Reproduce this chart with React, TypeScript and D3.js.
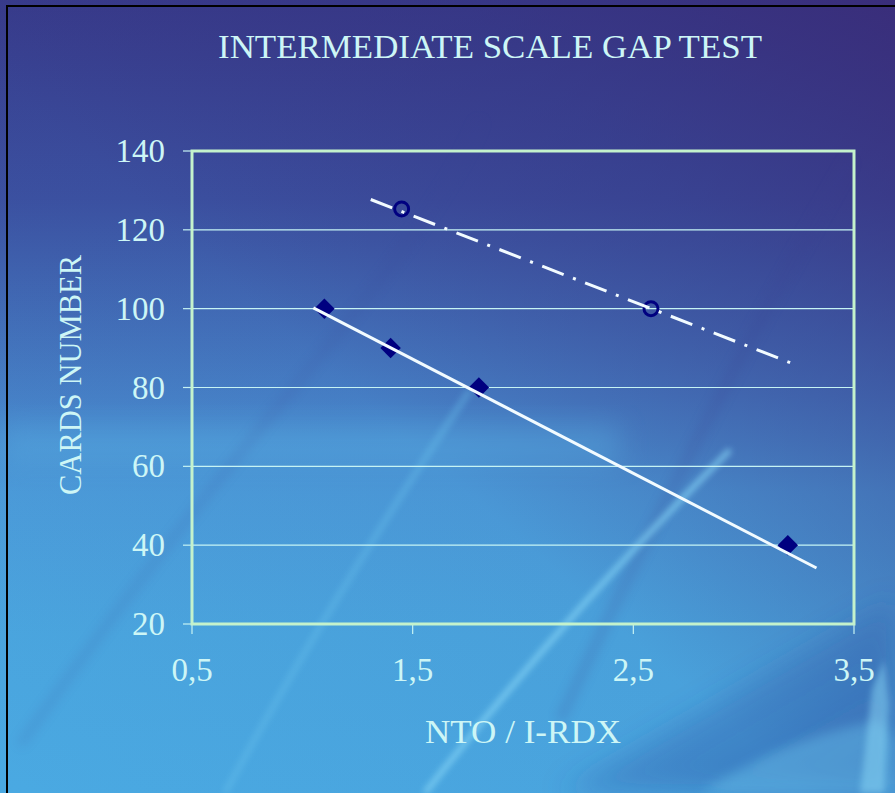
import React, { useEffect } from "react";
import * as d3 from "d3";

// Chart data
const xTicks = [0.5, 1.5, 2.5, 3.5];
const xTickLabels = ["0,5", "1,5", "2,5", "3,5"];
const yTicks = [20, 40, 60, 80, 100, 120, 140];
const gridValues = [40, 60, 80, 100, 120];

// Series A: filled diamonds
const seriesAX = [1.1, 1.4, 1.8, 3.2];
const seriesAY = [100, 90, 80, 40];
// Series B: open circles
const seriesBX = [1.45, 2.58];
const seriesBY = [125.3, 100];

// Trend lines (endpoints)
const trendAX = [1.05, 3.33];
const trendAY = [100.2, 34.2];
const trendBX = [1.31, 3.22];
const trendBY = [127.7, 86.1];

const W = 895;
const H = 793;
const plot = { left: 192, right: 854, top: 151, bottom: 624 };

const TEXT = "#cdf6f6";
const FRAME = "#c4f2cc";
const GRID = "#c6f4f4";
const MARK = "#000080";
const FONT = "'Liberation Serif', 'Times New Roman', serif";

export default function App() {
  useEffect(() => {
    document.body.style.margin = "0";
  }, []);

  const x = d3.scaleLinear().domain([0.5, 3.5]).range([plot.left, plot.right]);
  const y = d3.scaleLinear().domain([20, 140]).range([plot.bottom, plot.top]);

  const line = d3
    .line<[number, number]>()
    .x((d) => x(d[0]))
    .y((d) => y(d[1]));

  const trendA = line(trendAX.map((v, i) => [v, trendAY[i]]) as [number, number][]) || "";
  const trendB = line(trendBX.map((v, i) => [v, trendBY[i]]) as [number, number][]) || "";

  const diamond = d3.symbol().type(d3.symbolSquare).size(210)() || "";

  return (
    <svg width={W} height={H} style={{ display: "block" }}>
      <defs>
        <linearGradient id="bgV" x1="0" y1="0" x2="0" y2="1">
          <stop offset="0" stopColor="#373c8c" />
          <stop offset="0.25" stopColor="#3b52a2" />
          <stop offset="0.5" stopColor="#4682c8" />
          <stop offset="0.62" stopColor="#4b9cda" />
          <stop offset="0.8" stopColor="#4aa6df" />
          <stop offset="1" stopColor="#4aa9e2" />
        </linearGradient>
        <linearGradient id="bgD" x1="0" y1="1" x2="1" y2="0">
          <stop offset="0" stopColor="#3a2c7a" stopOpacity="0" />
          <stop offset="0.45" stopColor="#3a2c7a" stopOpacity="0.05" />
          <stop offset="0.75" stopColor="#36307e" stopOpacity="0.45" />
          <stop offset="1" stopColor="#3a2a76" stopOpacity="0.8" />
        </linearGradient>
        <linearGradient id="bgBR" x1="0" y1="0" x2="1" y2="1">
          <stop offset="0" stopColor="#2c4ea0" stopOpacity="0" />
          <stop offset="1" stopColor="#2c4ea0" stopOpacity="0.55" />
        </linearGradient>
        <filter id="blur6" x="-50%" y="-50%" width="200%" height="200%">
          <feGaussianBlur stdDeviation="6" />
        </filter>
        <filter id="blur3" x="-50%" y="-50%" width="200%" height="200%">
          <feGaussianBlur stdDeviation="3" />
        </filter>
        <filter id="blur14" x="-50%" y="-50%" width="200%" height="200%">
          <feGaussianBlur stdDeviation="14" />
        </filter>
      </defs>

      {/* Backdrop */}
      <rect x={0} y={0} width={W} height={H} fill="url(#bgV)" />
      <rect x={0} y={0} width={W} height={H} fill="url(#bgD)" />
      <path d="M560,793 L895,600 L895,793 Z" fill="url(#bgBR)" filter="url(#blur14)" />
      {/* soft horizontal light band */}
      <rect x={0} y={425} width={620} height={40} fill="#5ab4e6" opacity={0.35} filter="url(#blur14)" />
      {/* darker diagonal streaks */}
      <path d="M20,745 Q150,560 300,380 T480,120" stroke="#3a4a98" strokeWidth={7} fill="none" opacity={0.18} filter="url(#blur6)" />
      <path d="M560,720 Q700,420 850,160" stroke="#3a3f90" strokeWidth={8} fill="none" opacity={0.22} filter="url(#blur6)" />
      {/* light diagonal streaks */}
      <path d="M425,793 Q560,620 730,450" stroke="#86d6f6" strokeWidth={5} fill="none" opacity={0.8} filter="url(#blur3)" />
      <path d="M225,793 Q330,600 470,390" stroke="#6cc4ee" strokeWidth={6} fill="none" opacity={0.4} filter="url(#blur3)" />
      {/* light wave at lower right */}
      <path d="M700,793 Q780,740 880,720 L895,740 L895,793 Z" fill="#6cc8ef" opacity={0.4} filter="url(#blur6)" />
      <path d="M860,793 L872,690 L884,660 L889,705 L884,793 Z" fill="#8ad8f6" opacity={0.5} filter="url(#blur3)" />

      {/* Outer frame */}
      <rect x={7} y={6} width={W + 20} height={H + 20} fill="none" stroke="#000" strokeWidth={2} />

      {/* Title */}
      <text
        x={490}
        y={58}
        textAnchor="middle"
        fontFamily={FONT}
        fontSize={33}
        fill={TEXT}
        textLength={544}
        lengthAdjust="spacingAndGlyphs"
      >
        INTERMEDIATE SCALE GAP TEST
      </text>

      {/* Gridlines */}
      {gridValues.map((v) => (
        <line key={"g" + v} x1={plot.left} x2={plot.right} y1={y(v)} y2={y(v)} stroke={GRID} strokeWidth={1.2} />
      ))}

      {/* Tick marks */}
      {yTicks.map((v) => (
        <line key={"yt" + v} x1={plot.left - 9} x2={plot.left} y1={y(v)} y2={y(v)} stroke={GRID} strokeWidth={1.2} />
      ))}
      {xTicks.map((v) => (
        <line key={"xt" + v} x1={x(v)} x2={x(v)} y1={plot.bottom} y2={plot.bottom + 10} stroke={GRID} strokeWidth={1.2} />
      ))}

      {/* Plot frame */}
      <rect
        x={plot.left}
        y={plot.top}
        width={plot.right - plot.left}
        height={plot.bottom - plot.top}
        fill="none"
        stroke={FRAME}
        strokeWidth={3}
      />

      {/* Tick labels */}
      {yTicks.map((v) => (
        <text key={"yl" + v} x={165} y={y(v) + 11} textAnchor="end" fontFamily={FONT} fontSize={33} fill={TEXT}>
          {v}
        </text>
      ))}
      {xTicks.map((v, i) => (
        <text key={"xl" + v} x={x(v)} y={681} textAnchor="middle" fontFamily={FONT} fontSize={33} fill={TEXT}>
          {xTickLabels[i]}
        </text>
      ))}

      {/* Axis titles */}
      <text
        x={523}
        y={743}
        textAnchor="middle"
        fontFamily={FONT}
        fontSize={33}
        fill={TEXT}
        textLength={196}
        lengthAdjust="spacingAndGlyphs"
      >
        NTO / I-RDX
      </text>
      <text
        transform="translate(81,375) rotate(-90)"
        textAnchor="middle"
        fontFamily={FONT}
        fontSize={32}
        fill={TEXT}
        textLength={240}
        lengthAdjust="spacingAndGlyphs"
      >
        CARDS NUMBER
      </text>

      {/* Markers */}
      {seriesAX.map((v, i) => (
        <path
          key={"a" + i}
          d={diamond}
          transform={`translate(${x(v)},${y(seriesAY[i])}) rotate(45)`}
          fill={MARK}
        />
      ))}
      {seriesBX.map((v, i) => (
        <circle key={"b" + i} cx={x(v)} cy={y(seriesBY[i])} r={7} fill="none" stroke={MARK} strokeWidth={3} />
      ))}

      {/* Trend lines */}
      <path d={trendA} stroke="#f2fbff" strokeWidth={3} fill="none" />
      <path d={trendB} stroke="#f2fbff" strokeWidth={3} fill="none" strokeDasharray="23 10 3 10" />
    </svg>
  );
}
